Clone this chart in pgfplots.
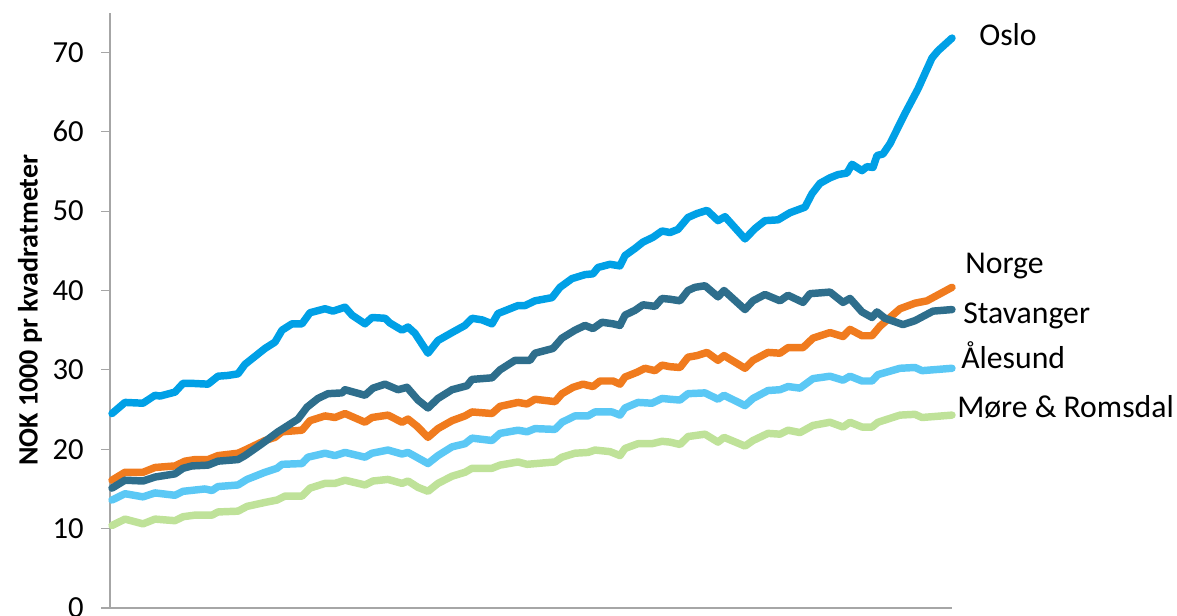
\documentclass[border=0pt]{standalone}
\usepackage{pgfplots}
\pgfplotsset{compat=1.18}
\usepackage{fontspec}
\setmainfont{Carlito}
\definecolor{oslo}{HTML}{00A0E6}
\definecolor{stav}{HTML}{2E6E8C}
\definecolor{norge}{HTML}{F07B1E}
\definecolor{ales}{HTML}{5BC8F5}
\definecolor{more}{HTML}{BFE299}
\definecolor{axgray}{HTML}{A6A6A6}
\begin{document}
\begin{tikzpicture}
\useasboundingbox (0,0) rectangle (882.75pt,461.25pt);
\begin{axis}[
  at={(82.5pt,5.25pt)}, anchor=south west,
  scale only axis, width=631.5pt, height=446.5pt,
  xmin=110, xmax=952, ymin=0, ymax=75,
  axis x line=bottom, axis y line=left,
  axis line style={axgray, line width=0.9pt, -},
  xtick=\empty,
  ytick={0,10,...,70},
  tick style={axgray, line width=0.9pt},
  ytick align=outside, major tick length=6.75pt,
  /pgf/number format/assume math mode=true,
  yticklabel style={font=\fontsize{23}{27}\selectfont, xshift=-9.5pt},
  ylabel={\textbf{NOK 1000 pr kvadratmeter}},
  ylabel style={font=\fontsize{21}{25}\selectfont, at={(axis description cs:-0.095,0.5)}, anchor=center},
  clip=false,
  every axis plot/.append style={line width=5.6pt, line join=round, line cap=round, no markers},
]
\addplot[more] coordinates {
(112,10.4)(125,11.2)(143,10.6)(155,11.2)(175,11.0)(183,11.5)(195,11.7)(212,11.7)(218,12.1)(238,12.2)(247,12.8)(265,13.3)(277,13.6)(285,14.1)(302,14.1)(310,15.1)(325,15.7)(335,15.7)(345,16.1)(365,15.5)(373,16.0)(388,16.2)(402,15.7)(408,16.0)(418,15.2)(428,14.7)(438,15.7)(452,16.6)(465,17.1)(472,17.6)(492,17.6)(500,18.0)(518,18.4)(527,18.1)(555,18.4)(562,19.0)(575,19.5)(588,19.6)(595,19.9)(610,19.7)(620,19.2)(625,20.1)(638,20.7)(652,20.7)(662,21.0)(670,20.9)(680,20.6)(688,21.6)(705,21.9)(718,20.9)(724,21.5)(745,20.4)(753,21.1)(768,22.0)(780,21.9)(788,22.4)(800,22.1)(813,23.0)(830,23.4)(843,22.8)(850,23.4)(862,22.8)(872,22.8)(878,23.4)(900,24.3)(915,24.4)(922,24.0)(952,24.3)
};
\addplot[ales] coordinates {
(112,13.6)(125,14.4)(143,14.0)(155,14.5)(175,14.2)(183,14.7)(205,15.0)(212,14.8)(218,15.3)(238,15.5)(247,16.2)(265,17.1)(277,17.6)(282,18.1)(302,18.2)(308,19.0)(325,19.5)(335,19.2)(345,19.6)(365,19.0)(372,19.5)(388,19.9)(402,19.4)(408,19.6)(418,18.9)(428,18.2)(438,19.2)(452,20.3)(465,20.7)(472,21.4)(492,21.1)(500,22.0)(518,22.4)(527,22.2)(535,22.6)(555,22.5)(562,23.4)(575,24.2)(588,24.2)(595,24.7)(612,24.7)(620,24.3)(625,25.2)(638,25.9)(652,25.8)(662,26.4)(670,26.3)(680,26.2)(688,27.0)(705,27.1)(718,26.3)(724,26.8)(745,25.5)(753,26.4)(768,27.4)(780,27.5)(788,27.9)(800,27.7)(813,28.9)(830,29.2)(843,28.7)(850,29.2)(862,28.6)(872,28.6)(878,29.4)(900,30.2)(915,30.3)(922,29.9)(952,30.2)
};
\addplot[norge] coordinates {
(112,16.1)(125,17.1)(143,17.1)(155,17.7)(175,17.9)(185,18.5)(195,18.7)(208,18.7)(218,19.2)(238,19.5)(245,19.9)(265,21.1)(275,21.5)(282,22.2)(302,22.4)(310,23.6)(325,24.2)(335,24.0)(345,24.5)(365,23.4)(372,24.0)(388,24.3)(402,23.4)(408,23.8)(417,22.9)(428,21.5)(438,22.6)(452,23.6)(465,24.2)(472,24.7)(492,24.5)(500,25.4)(518,25.9)(527,25.7)(535,26.3)(555,26.0)(562,27.0)(573,27.8)(583,28.2)(593,27.9)(600,28.6)(613,28.6)(620,28.2)(625,29.1)(637,29.7)(645,30.2)(655,29.9)(662,30.6)(670,30.4)(680,30.3)(688,31.6)(697,31.8)(707,32.2)(718,31.2)(724,31.8)(745,30.2)(753,31.2)(768,32.2)(780,32.1)(788,32.8)(803,32.8)(813,34.0)(830,34.7)(843,34.2)(850,35.1)(862,34.3)(872,34.3)(880,35.5)(900,37.7)(915,38.4)(927,38.7)(952,40.4)
};
\addplot[stav] coordinates {
(112,15.1)(125,16.1)(143,16.0)(155,16.5)(175,16.9)(183,17.6)(192,17.9)(208,18.0)(218,18.5)(238,18.7)(245,19.2)(262,20.7)(278,22.2)(298,23.8)(307,25.3)(318,26.4)(328,27.0)(342,27.1)(345,27.5)(365,26.8)(373,27.7)(385,28.2)(398,27.5)(407,27.8)(418,26.2)(428,25.2)(438,26.4)(452,27.5)(467,28.0)(472,28.8)(492,29.0)(500,30.0)(515,31.2)(530,31.2)(535,32.1)(553,32.7)(562,34.0)(575,35.0)(585,35.6)(593,35.2)(602,36.0)(613,35.8)(620,35.6)(625,36.9)(635,37.5)(643,38.2)(655,38.0)(662,39.0)(670,38.9)(680,38.7)(688,40.0)(695,40.4)(705,40.6)(718,39.2)(724,40.0)(745,37.6)(753,38.7)(765,39.5)(780,38.7)(788,39.4)(803,38.5)(810,39.6)(830,39.8)(843,38.5)(850,39.0)(862,37.3)(872,36.6)(877,37.3)(885,36.5)(903,35.7)(915,36.2)(933,37.4)(952,37.6)
};
\addplot[oslo] coordinates {
(112,24.5)(125,25.9)(143,25.8)(155,26.8)(160,26.7)(175,27.2)(183,28.3)(192,28.3)(208,28.2)(218,29.2)(228,29.3)(238,29.5)(245,30.7)(265,32.7)(275,33.5)(282,35.0)(292,35.8)(302,35.8)(310,37.2)(325,37.7)(333,37.4)(345,37.9)(352,36.9)(365,35.8)(372,36.6)(385,36.5)(390,35.9)(402,35.0)(408,35.4)(415,34.6)(428,32.1)(438,33.7)(452,34.7)(465,35.6)(472,36.5)(482,36.3)(492,35.8)(498,37.1)(518,38.1)(525,38.1)(535,38.7)(552,39.1)(560,40.4)(572,41.5)(585,42.0)(593,42.1)(598,42.9)(610,43.3)(620,43.1)(625,44.4)(635,45.3)(643,46.1)(653,46.7)(662,47.5)(670,47.3)(678,47.7)(688,49.2)(697,49.7)(707,50.1)(718,48.8)(725,49.3)(745,46.5)(755,47.8)(765,48.8)(778,48.9)(790,49.8)(805,50.5)(812,52.2)(820,53.5)(830,54.2)(838,54.6)(847,54.8)(852,55.9)(862,55.1)(867,55.6)(873,55.5)(877,57.0)(883,57.2)(890,58.5)(905,62.3)(918,65.4)(932,69.3)(938,70.2)(952,71.8)
};
\begin{scope}[every node/.style={anchor=base west, inner sep=0pt, font=\fontsize{23.8}{28}\selectfont}]
\node at (axis cs:979,70.9) {Oslo};
\node at (axis cs:965,42.1) {Norge};
\node at (axis cs:963,35.8) {Stavanger};
\node at (axis cs:961,30.2) {Ålesund};
\node at (axis cs:957,24.0) {Møre \& Romsdal};
\end{scope}
\end{axis}
\end{tikzpicture}
\end{document}
